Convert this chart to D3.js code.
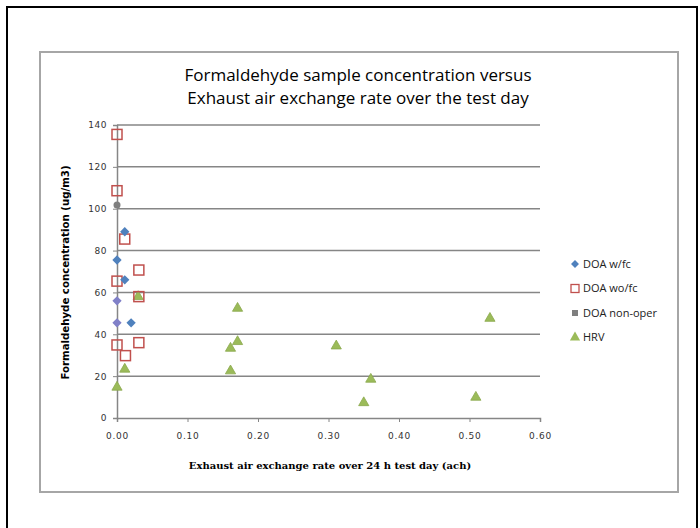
<!DOCTYPE html>
<html>
<head>
<meta charset="utf-8">
<script src="https://cdn.jsdelivr.net/npm/d3@7"></script>
<style>
  body { margin: 0; background: #fff; }
</style>
</head>
<body>
<div id="chart"></div>
<script>
const titleLines = ["Formaldehyde sample concentration versus", "Exhaust air exchange rate over the test day"];
const xTicks = [0, 0.1, 0.2, 0.3, 0.4, 0.5, 0.6];
const yTicks = [0, 20, 40, 60, 80, 100, 120, 140];
const seriesNames = ["DOA w/fc", "DOA wo/fc", "DOA non-oper", "HRV"];

// DOA w/fc
const doaWfcX = [0.011, 0.000, 0.011, 0.020, 0.000, 0.000];
const doaWfcY = [89, 75.5, 66, 45.5, 56, 45.5];
// DOA wo/fc
const doaWofcX = [0.000, 0.000, 0.011, 0.031, 0.000, 0.000, 0.012, 0.031, 0.031];
const doaWofcY = [135.5, 108.6, 85.5, 70.7, 65.4, 34.9, 29.8, 36, 58];
// DOA non-oper
const doaNonX = [0.000];
const doaNonY = [101.8];
// HRV
const hrvX = [0.030, 0.171, 0.161, 0.171, 0.161, 0.011, 0.000, 0.311, 0.529, 0.360, 0.350, 0.509];
const hrvY = [58, 52.4, 33.3, 36.5, 22.5, 23.3, 14.7, 34.4, 47.6, 18.5, 7.3, 9.9];

const W = 700, H = 528;
const plot = { left: 117, right: 540, top: 125, bottom: 418 };

const svg = d3.select("#chart").append("svg")
    .attr("width", W)
    .attr("height", H);

// outer frame and chart area
svg.append("rect")
    .attr("x", 7).attr("y", 7)
    .attr("width", 690).attr("height", 540)
    .attr("fill", "#fff")
    .attr("stroke", "#000")
    .attr("stroke-width", 2);

svg.append("rect")
    .attr("x", 40).attr("y", 52)
    .attr("width", 638).attr("height", 440)
    .attr("fill", "#fff")
    .attr("stroke", "#a6a6a6")
    .attr("stroke-width", 2);

const x = d3.scaleLinear().domain([0, 0.6]).range([plot.left, plot.right]);
const y = d3.scaleLinear().domain([0, 140]).range([plot.bottom, plot.top]);

// title
svg.append("g").selectAll("text")
    .data(titleLines)
    .enter()
    .append("text")
    .attr("x", 358)
    .attr("y", (d, i) => 81 + i * 23)
    .attr("text-anchor", "middle")
    .style("font-family", "'Open Sans', sans-serif")
    .style("font-size", "17px")
    .attr("fill", "#000")
    .text(d => d);

// gridlines
svg.append("g").selectAll("line")
    .data(yTicks.filter(d => d > 0))
    .enter()
    .append("line")
    .attr("x1", plot.left).attr("x2", plot.right)
    .attr("y1", d => y(d)).attr("y2", d => y(d))
    .attr("stroke", "#868686")
    .attr("stroke-width", 1.5);

// y axis
const yAxis = svg.append("g")
    .attr("transform", `translate(${plot.left},0)`)
    .call(d3.axisLeft(y).tickValues(yTicks).tickSize(4).tickFormat(d3.format("d")));
yAxis.select(".domain").attr("stroke", "#868686").attr("stroke-width", 1.5);
yAxis.selectAll(".tick line").attr("stroke", "#868686");
yAxis.selectAll("text")
    .attr("x", -10)
    .style("font-family", "'DejaVu Sans', sans-serif")
    .style("font-size", "9px")
    .style("letter-spacing", "0.5px")
    .attr("fill", "#333");

// x axis
const xAxis = svg.append("g")
    .attr("transform", `translate(0,${plot.bottom})`)
    .call(d3.axisBottom(x).tickValues(xTicks).tickSize(4).tickFormat(d3.format(".2f")));
xAxis.select(".domain").attr("stroke", "#868686").attr("stroke-width", 1.5);
xAxis.selectAll(".tick line").attr("stroke", "#868686");
xAxis.selectAll("text")
    .attr("y", 15)
    .style("font-family", "'DejaVu Sans', sans-serif")
    .style("font-size", "9px")
    .style("letter-spacing", "0.8px")
    .attr("fill", "#333");

// axis titles
svg.append("text")
    .attr("x", 330)
    .attr("y", 469)
    .attr("text-anchor", "middle")
    .style("font-family", "'DejaVu Serif', serif")
    .style("font-weight", "bold")
    .style("font-size", "10px")
    .text("Exhaust air exchange rate over 24 h test day (ach)");

svg.append("text")
    .attr("transform", `translate(69,${(plot.top + plot.bottom) / 2 + 1}) rotate(-90)`)
    .attr("text-anchor", "middle")
    .style("font-family", "'DejaVu Sans', sans-serif")
    .style("font-weight", "bold")
    .style("font-size", "10.2px")
    .text("Formaldehyde concentration (ug/m3)");

// markers
const blue = "#4f81bd", red = "#c0504d", gray = "#7f7f7f", green = "#9bbb59";
const zip = (xs, ys) => xs.map((v, i) => ({ x: v, y: ys[i] }));

const marks = svg.append("g");

marks.selectAll(".hrv")
    .data(zip(hrvX, hrvY))
    .enter()
    .append("path")
    .attr("class", "hrv")
    .attr("transform", d => `translate(${x(d.x)},${y(d.y)})`)
    .attr("d", d3.symbol().type(d3.symbolTriangle).size(45))
    .attr("fill", green)
    .attr("stroke", "#8aa84c")
    .attr("stroke-width", 0.8);

marks.selectAll(".wofc")
    .data(zip(doaWofcX, doaWofcY))
    .enter()
    .append("rect")
    .attr("class", "wofc")
    .attr("x", d => x(d.x) - 5)
    .attr("y", d => y(d.y) - 5)
    .attr("width", 10)
    .attr("height", 10)
    .attr("fill", "none")
    .attr("stroke", red)
    .attr("stroke-width", 1.5);

marks.selectAll(".non")
    .data(zip(doaNonX, doaNonY))
    .enter()
    .append("circle")
    .attr("class", "non")
    .attr("cx", d => x(d.x))
    .attr("cy", d => y(d.y))
    .attr("r", 3.5)
    .attr("fill", gray);

marks.selectAll(".wfc")
    .data(zip(doaWfcX, doaWfcY))
    .enter()
    .append("path")
    .attr("class", "wfc")
    .attr("transform", d => `translate(${x(d.x)},${y(d.y)})`)
    .attr("d", d3.symbol().type(d3.symbolDiamond2).size(55))
    .attr("fill", (d, i) => i >= 4 ? "#8080c8" : blue);

// legend
const legend = svg.append("g")
    .attr("transform", "translate(575,264)");

const items = legend.selectAll(".legend-item")
    .data(seriesNames)
    .enter()
    .append("g")
    .attr("class", "legend-item")
    .attr("transform", (d, i) => `translate(0,${i * 24.5})`);

items.each(function (d, i) {
    const g = d3.select(this);
    if (i === 0) {
        g.append("path").attr("d", d3.symbol().type(d3.symbolDiamond2).size(40)).attr("fill", blue);
    } else if (i === 1) {
        g.append("rect").attr("x", -4).attr("y", -4).attr("width", 8).attr("height", 8)
            .attr("fill", "none").attr("stroke", red).attr("stroke-width", 1.3);
    } else if (i === 2) {
        g.append("rect").attr("x", -3).attr("y", -3).attr("width", 6).attr("height", 6).attr("fill", gray);
    } else {
        g.append("path").attr("d", d3.symbol().type(d3.symbolTriangle).size(45)).attr("fill", green);
    }
});

items.append("text")
    .attr("x", 8)
    .attr("y", 0)
    .attr("dy", "0.35em")
    .style("font-family", "'Open Sans', sans-serif")
    .style("font-size", "11px")
    .attr("fill", "#222")
    .text(d => d);
</script>
</body>
</html>
